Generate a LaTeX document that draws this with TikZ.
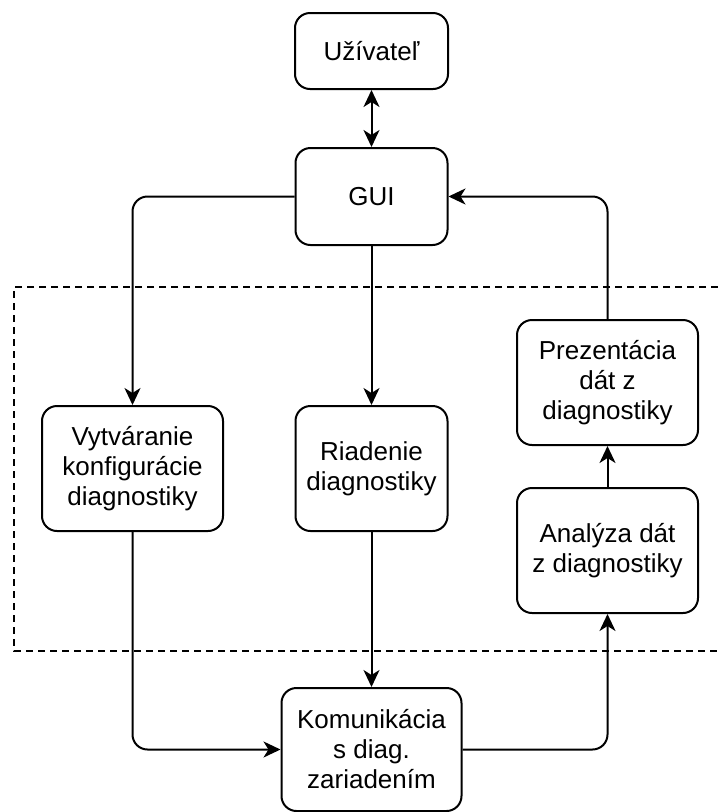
\documentclass[tikz,border=0pt]{standalone}
\usepackage{fontspec}
\setmainfont{Liberation Sans}
\usetikzlibrary{arrows.meta}
\begin{document}
\begin{tikzpicture}[x=1pt,y=-1pt,
  tip/.tip={Stealth[length=17pt,width=16pt,inset=5pt]},
  box/.style={draw, line width=2pt, rounded corners=15pt, align=center,
    inner sep=0pt, font=\fontsize{26}{30}\selectfont},
  link/.style={line width=2pt, rounded corners=15pt, -tip},
  region/.style={line width=2pt, dash pattern=on 7pt off 5pt}]
\useasboundingbox (0,0) rectangle (718,812);

% system boundary (open on the right)
\draw[region] (730,287) -- (14,287) -- (14,651) -- (730,651);

% blocks
\node[box, minimum width=153pt, minimum height=76pt] (user) at (371.5,51) {Užívateľ};
\node[box, minimum width=152pt, minimum height=97pt] (gui) at (371.5,196.5) {GUI};
\node[box, minimum width=181pt, minimum height=125pt] (conf) at (132.5,468.5)
  {Vytváranie\\konfigurácie\\diagnostiky};
\node[box, minimum width=152pt, minimum height=125pt] (ctrl) at (371.5,468.5)
  {Riadenie\\diagnostiky};
\node[box, minimum width=181pt, minimum height=125pt] (pres) at (607.5,382.5)
  {Prezentácia\\dát z\\diagnostiky};
\node[box, minimum width=181pt, minimum height=125pt] (anal) at (607.5,550.5)
  {Analýza dát\\z diagnostiky};
\node[box, minimum width=180pt, minimum height=123pt] (comm) at (371.5,749.5)
  {Komunikácia\\s diag.\\zariadením};

% connectors
\draw[link, tip-tip] (user) -- (gui);
\draw[link] (gui.west) -| (conf.north);
\draw[link] (gui) -- (ctrl);
\draw[link] (pres.north) |- (gui.east);
\draw[link] (anal) -- (pres);
\draw[link] (conf.south) |- (comm.west);
\draw[link] (ctrl.south) -- (comm.north);
\draw[link] (comm.east) -| (anal.south);
\end{tikzpicture}
\end{document}
